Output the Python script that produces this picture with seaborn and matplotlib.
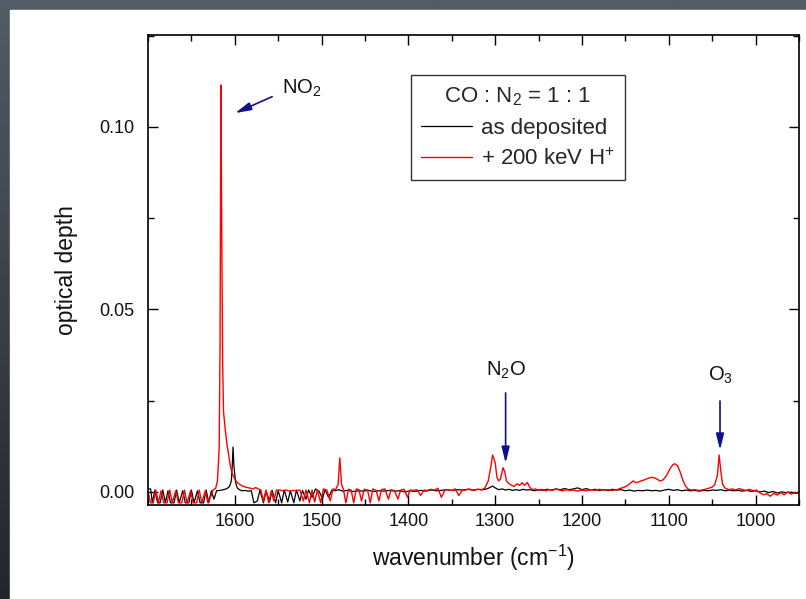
import numpy as np
import pandas as pd
import matplotlib
matplotlib.use("Agg")
import matplotlib.pyplot as plt
from matplotlib.patches import Rectangle
from matplotlib.ticker import MultipleLocator
from matplotlib.colors import LinearSegmentedColormap
import seaborn as sns

# ---------------- data : (wavenumber, optical depth) ----------------
black_points = [
    (1700, 0.0008), (1697, 0.0008), (1695, -0.003), (1692, 0.0005), (1689, -0.003), (1686, -0.003),
    (1683, 0.0005), (1680, -0.003), (1677, 0.0003), (1674, -0.003), (1670, -0.003), (1667, 0.0005),
    (1664, -0.003), (1660, 0.0003), (1657, -0.003), (1653, -0.003), (1650, 0.0005), (1647, -0.003),
    (1643, 0.0003), (1640, -0.003), (1636, -0.003), (1633, 0.0005), (1630, -0.003), (1627, 0.0003),
    (1624, -0.002), (1621, 0.0003), (1617, 0.0004), (1613, 0.0006), (1609, 0.0009), (1606, 0.0015),
    (1604, 0.003), (1603, 0.007), (1602, 0.0123), (1601, 0.007), (1599, 0.0025), (1597, 0.001),
    (1594, 0.0005), (1591, 0.0003), (1588, 0.0004), (1585, 0.0002), (1581, 0.0003), (1578, -0.003),
    (1574, -0.0025), (1571, 0.0005), (1567, -0.003), (1564, 0.0003), (1560, -0.0028), (1557, 0.0004),
    (1553, -0.003), (1550, 0.0003), (1546, -0.003), (1543, 0.0005), (1539, -0.0028), (1536, 0.0003),
    (1532, -0.003), (1529, 0.0005), (1525, -0.0025), (1522, 0.0004), (1518, -0.002), (1515, 0.0005),
    (1511, -0.0015), (1507, 0.0008), (1503, 0.0002), (1499, -0.0018), (1496, 0.0006), (1492, -0.0015),
    (1488, 0.0005), (1484, 0.0003), (1480, 0.0006), (1476, 0.0002), (1470, 0.0004), (1464, 0.0001),
    (1458, 0.0003), (1452, 0.0002), (1446, 0.0004), (1440, 0.0001), (1434, 0.0003), (1428, 0.0002),
    (1422, 0.0004), (1416, 0.0002), (1410, 0.0003), (1404, 0.0), (1398, 0.0003), (1392, 0.0001),
    (1386, 0.0004), (1380, 0.0002), (1374, 0.0005), (1368, 0.0003), (1362, 0.0004), (1356, 0.0006),
    (1350, 0.0004), (1344, 0.0006), (1338, 0.0005), (1332, 0.0007), (1326, 0.0005), (1320, 0.0007),
    (1314, 0.0006), (1310, 0.0008), (1306, 0.0012), (1303, 0.0016), (1300, 0.0011), (1296, 0.0006),
    (1292, 0.0008), (1288, 0.0005), (1284, 0.0007), (1280, 0.0004), (1276, 0.0006), (1272, 0.0004),
    (1268, 0.0007), (1264, 0.0005), (1260, 0.0006), (1255, 0.0003), (1250, 0.0006), (1245, 0.0004),
    (1240, 0.0007), (1235, 0.0005), (1230, 0.0008), (1225, 0.0006), (1220, 0.0009), (1215, 0.0006),
    (1210, 0.0008), (1205, 0.0011), (1200, 0.0006), (1195, 0.0009), (1190, 0.0005), (1185, 0.0007),
    (1180, 0.0004), (1175, 0.0006), (1170, 0.0004), (1165, 0.0007), (1160, 0.0005), (1155, 0.0006),
    (1150, 0.0003), (1145, 0.0005), (1140, 0.0002), (1135, 0.0004), (1130, 0.0003), (1125, 0.0005),
    (1120, 0.0003), (1115, 0.0004), (1110, 0.0002), (1105, 0.0005), (1100, 0.0007), (1095, 0.0004),
    (1090, 0.0006), (1085, 0.0003), (1080, 0.0005), (1075, 0.0003), (1070, 0.0004), (1065, 0.0002),
    (1060, 0.0004), (1055, 0.0003), (1050, 0.0005), (1045, 0.0004), (1040, 0.0006), (1035, 0.0003),
    (1030, 0.0005), (1025, 0.0003), (1020, 0.0004), (1015, 0.0002), (1010, 0.0004), (1005, 0.0001),
    (1000, 0.0003), (995, 0.0), (990, 0.0002), (985, -0.0002), (980, 0.0001), (975, -0.0003),
    (970, 0.0), (965, -0.0002), (960, -0.0001), (955, -0.0004), (950, -0.0004),
]

red_points = [
    (1700, 0.0), (1697, -0.003), (1694, -0.003), (1691, 0.0005), (1688, -0.003), (1685, 0.0003),
    (1682, -0.003), (1678, -0.003), (1675, 0.0005), (1672, -0.003), (1668, 0.0003), (1665, -0.003),
    (1661, -0.003), (1658, 0.0005), (1655, -0.003), (1651, 0.0003), (1648, -0.003), (1644, -0.003),
    (1641, 0.0005), (1638, -0.003), (1634, 0.0003), (1631, -0.003), (1628, -0.0015), (1625, 0.0005),
    (1622, 0.001), (1620, 0.003), (1618, 0.012), (1617, 0.04), (1616, 0.1115), (1615, 0.07),
    (1614, 0.035), (1613, 0.022), (1611, 0.017), (1609, 0.013), (1607, 0.010), (1605, 0.007),
    (1603, 0.005), (1600, 0.0035), (1597, 0.0025), (1594, 0.002), (1590, 0.0015), (1586, 0.0012),
    (1582, 0.0010), (1579, 0.0008), (1576, 0.0012), (1573, 0.0008), (1570, 0.0005), (1567, -0.0025),
    (1564, 0.0005), (1561, -0.003), (1558, 0.0003), (1555, -0.0025), (1552, 0.0005), (1548, 0.0005),
    (1545, 0.0003), (1541, 0.0005), (1537, 0.0002), (1533, 0.0004), (1529, 0.0003), (1525, 0.0005),
    (1521, -0.0025), (1518, 0.0005), (1514, -0.003), (1511, 0.0005), (1508, -0.0028), (1505, 0.0005),
    (1501, -0.003), (1498, 0.0008), (1494, 0.0005), (1490, -0.0025), (1487, 0.0008), (1484, 0.0006),
    (1481, 0.002), (1479, 0.0093), (1477, 0.002), (1475, 0.0008), (1472, -0.003), (1469, 0.0007),
    (1466, 0.0005), (1463, -0.003), (1460, 0.0008), (1457, 0.0006), (1454, -0.0025), (1451, 0.0007),
    (1447, 0.0005), (1444, -0.003), (1441, 0.0008), (1437, 0.0004), (1434, -0.0025), (1431, 0.0006),
    (1427, 0.0008), (1423, -0.002), (1420, 0.0006), (1416, 0.0003), (1412, -0.002), (1409, 0.0005),
    (1405, 0.0007), (1401, -0.0015), (1398, 0.0005), (1394, 0.0004), (1390, 0.0006), (1386, -0.001),
    (1382, 0.0005), (1378, 0.0004), (1374, 0.0007), (1370, 0.0005), (1366, 0.001), (1362, -0.0015),
    (1358, 0.0005), (1354, 0.0006), (1350, 0.0004), (1346, 0.0008), (1342, -0.001), (1338, 0.0004),
    (1334, 0.0005), (1330, 0.0008), (1325, 0.0004), (1320, 0.0007), (1316, 0.0005), (1312, 0.001),
    (1308, 0.003), (1305, 0.007), (1303, 0.0101), (1300, 0.008), (1298, 0.004), (1296, 0.003),
    (1294, 0.0035), (1291, 0.0066), (1289, 0.0055), (1287, 0.003), (1284, 0.0022), (1281, 0.0018),
    (1278, 0.0015), (1275, 0.0022), (1272, 0.0018), (1269, 0.0025), (1266, 0.0018), (1263, 0.0026),
    (1260, 0.0012), (1257, 0.0006), (1254, 0.0008), (1250, 0.0004), (1246, 0.0007), (1242, 0.0003),
    (1238, 0.0006), (1234, 0.0004), (1230, 0.0008), (1226, 0.0005), (1222, 0.0003), (1218, 0.0006),
    (1214, 0.0004), (1210, 0.0005), (1205, 0.0002), (1200, 0.0005), (1195, 0.0003), (1190, 0.0006),
    (1185, 0.0004), (1180, 0.0007), (1175, 0.0005), (1170, 0.0006), (1165, 0.0004), (1160, 0.0006),
    (1155, 0.001), (1150, 0.0014), (1146, 0.002), (1141, 0.003), (1138, 0.0025), (1135, 0.0027),
    (1132, 0.003), (1128, 0.0033), (1124, 0.0037), (1120, 0.004), (1116, 0.0038), (1113, 0.0034),
    (1110, 0.003), (1107, 0.0032), (1104, 0.004), (1101, 0.0052), (1098, 0.0066), (1095, 0.0075),
    (1093, 0.0077), (1090, 0.0072), (1087, 0.0055), (1084, 0.0033), (1081, 0.0017), (1078, 0.0008),
    (1074, 0.0005), (1070, 0.0006), (1066, 0.0004), (1062, 0.0005), (1058, 0.0007), (1054, 0.001),
    (1050, 0.0013), (1047, 0.002), (1044, 0.0045), (1042, 0.0101), (1040, 0.0055), (1038, 0.002),
    (1035, 0.001), (1031, 0.0006), (1027, 0.0008), (1023, 0.0005), (1019, 0.0009), (1015, 0.0006),
    (1011, 0.0004), (1007, 0.0007), (1003, 0.0003), (999, 0.0005), (995, -0.0003), (991, -0.0008),
    (987, -0.0005), (983, -0.0012), (979, -0.0004), (975, -0.0009), (971, -0.0002), (967, -0.0008),
    (963, 0.0), (959, -0.0006), (955, -0.0002), (950, -0.0005),
]

black_wn = [p[0] for p in black_points]
black_od = [p[1] for p in black_points]
red_wn = [p[0] for p in red_points]
red_od = [p[1] for p in red_points]

series_labels = ["as deposited", "+ 200 keV H$^{+}$"]
legend_title = "CO : N$_{2}$ = 1 : 1"
x_ticks = [1600, 1500, 1400, 1300, 1200, 1100, 1000]
y_ticks = [0.00, 0.05, 0.10]
annot_labels = ["NO$_{2}$", "N$_{2}$O", "O$_{3}$"]
annot_tip_wn = [1599.6, 1288, 1041]
annot_tip_od = [0.1038, 0.0079, 0.0115]

# ---------------- style ----------------
sns.set_theme(style="ticks")
plt.rcParams["font.family"] = ["Liberation Sans", "DejaVu Sans"]
plt.rcParams["mathtext.default"] = "regular"
plt.rcParams["axes.unicode_minus"] = False

fig = plt.figure(figsize=(8.06, 5.99), dpi=100)

# dark slide background with white panel
bg = fig.add_axes([0, 0, 1, 1], zorder=-10)
grad = np.linspace(0, 1, 256).reshape(-1, 1)
cmap_bg = LinearSegmentedColormap.from_list("bg", ["#525c66", "#22262a"])
bg.imshow(grad, aspect="auto", cmap=cmap_bg, extent=[0, 1, 0, 1], origin="upper")
bg.add_patch(Rectangle((10 / 806, 0), 1, (599 - 10) / 599, color="white", transform=bg.transAxes))
bg.set_xlim(0, 1)
bg.set_ylim(0, 1)
bg.axis("off")

ax = fig.add_axes([148 / 806, (599 - 505) / 599, (799 - 148) / 806, (505 - 35) / 599])
ax.set_facecolor("white")

df_b = pd.DataFrame({"wn": black_wn, "od": black_od})
df_r = pd.DataFrame({"wn": red_wn, "od": red_od})
sns.lineplot(data=df_b, x="wn", y="od", ax=ax, color="black", lw=0.9, estimator=None,
             label=series_labels[0])
sns.lineplot(data=df_r, x="wn", y="od", ax=ax, color="#ff0000", lw=1.0, estimator=None,
             label=series_labels[1])

ax.set_xlim(1700, 950)
ax.set_ylim(-0.0036, 0.1252)
ax.set_xticks(x_ticks)
ax.set_yticks(y_ticks)
ax.set_yticklabels([f"{v:.2f}" for v in y_ticks])
ax.xaxis.set_minor_locator(MultipleLocator(50))
ax.yaxis.set_minor_locator(MultipleLocator(0.025))
ax.tick_params(which="both", direction="in", top=True, right=True, width=1.0, color="black",
               labelsize=13, labelcolor="#111111")
ax.tick_params(axis="x", which="major", length=7, pad=6)
ax.tick_params(axis="y", which="major", length=7, pad=10)
ax.tick_params(which="minor", length=4)
for s in ax.spines.values():
    s.set_linewidth(1.2)
    s.set_color("black")

ax.set_xlabel("wavenumber (cm$^{-1}$)", fontsize=16.5, labelpad=9, color="#111111")
ax.set_ylabel("optical depth", fontsize=16.5, labelpad=15, color="#111111")

leg = ax.legend(title=legend_title, loc="upper left", bbox_to_anchor=(0.404, 0.915),
                borderaxespad=0, fontsize=16, title_fontsize=16, frameon=True, fancybox=False,
                edgecolor="black", handlelength=2.3, handletextpad=0.4, borderpad=0.45,
                labelspacing=0.45)
leg.get_frame().set_linewidth(1.0)

arrow_color = "#10108a"
arrow_kw = dict(arrowstyle="-|>,head_length=0.8,head_width=0.2", color=arrow_color, lw=1.2,
                shrinkA=0, shrinkB=0)
# NO2 (diagonal arrow)
ax.annotate("", xy=(annot_tip_wn[0], annot_tip_od[0]), xytext=(1557, 0.1083), arrowprops=arrow_kw)
ax.text(1546, 0.1107, annot_labels[0], fontsize=14.5, ha="left", va="center", color="#111111")
# N2O
ax.annotate("", xy=(annot_tip_wn[1], annot_tip_od[1]), xytext=(1288, 0.0271), arrowprops=arrow_kw)
ax.text(1288, 0.0334, annot_labels[1], fontsize=14.5, ha="center", va="center", color="#111111")
# O3
ax.annotate("", xy=(annot_tip_wn[2], annot_tip_od[2]), xytext=(1041, 0.0249), arrowprops=arrow_kw)
ax.text(1041, 0.0318, annot_labels[2], fontsize=14.5, ha="center", va="center", color="#111111")

fig.savefig("out.png", dpi=100)
